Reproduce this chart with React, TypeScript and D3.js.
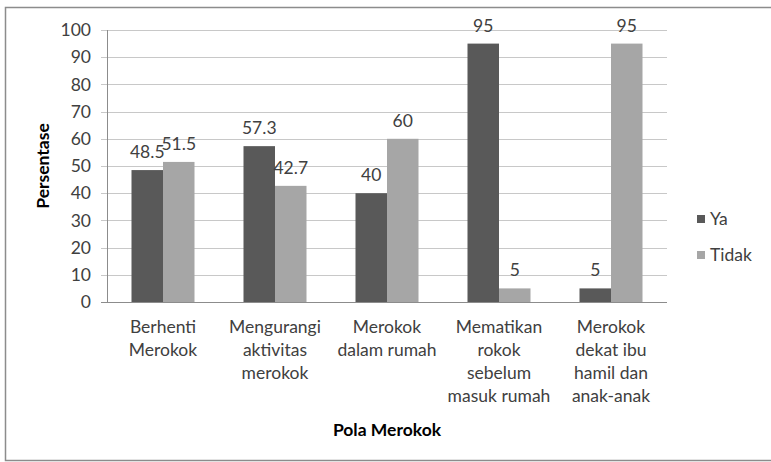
import * as d3 from "d3";
import { useEffect, useRef } from "react";

const categories = [
  ["Berhenti", "Merokok"],
  ["Mengurangi", "aktivitas", "merokok"],
  ["Merokok", "dalam rumah"],
  ["Mematikan", "rokok", "sebelum", "masuk rumah"],
  ["Merokok", "dekat ibu", "hamil dan", "anak-anak"],
];
const seriesNames = ["Ya", "Tidak"];
const ya = [48.5, 57.3, 40, 95, 5];
const tidak = [51.5, 42.7, 60, 5, 95];
const yTicks = [0, 10, 20, 30, 40, 50, 60, 70, 80, 90, 100];
const colors = ["#595959", "#a6a6a6"];

export default function App() {
  const ref = useRef<SVGSVGElement>(null);

  useEffect(() => {
    const svg = d3.select(ref.current);
    svg.selectAll("*").remove();
    const font = "Lato, 'Open Sans', sans-serif";
    const textColor = "#404040";
    const fs = 17.5;

    // outer chart border
    svg
      .append("rect")
      .attr("x", 5.5)
      .attr("y", 7.5)
      .attr("width", 770)
      .attr("height", 453)
      .attr("fill", "#fff")
      .attr("stroke", "#8c8c8c")
      .attr("stroke-width", 1.5);

    const left = 107,
      right = 667,
      top = 30,
      bottom = 302;

    const x0 = d3
      .scaleBand()
      .domain(d3.range(categories.length).map(String))
      .range([left, right]);
    const x1 = d3.scaleBand().domain(seriesNames).range([0, 63]);
    const y = d3.scaleLinear().domain([0, 100]).range([bottom, top]);

    // gridlines
    svg
      .append("g")
      .selectAll("line")
      .data(yTicks)
      .enter()
      .append("line")
      .attr("x1", left - 6)
      .attr("x2", right)
      .attr("y1", (d) => Math.round(y(d)) + 0.5)
      .attr("y2", (d) => Math.round(y(d)) + 0.5)
      .attr("stroke", (d) => (d === 0 ? "#8c8c8c" : "#c8c8c8"))
      .attr("stroke-width", 1);

    // y axis line
    svg
      .append("line")
      .attr("x1", left + 0.5)
      .attr("x2", left + 0.5)
      .attr("y1", top)
      .attr("y2", bottom)
      .attr("stroke", "#8c8c8c");

    // y tick labels
    svg
      .append("g")
      .selectAll("text")
      .data(yTicks)
      .enter()
      .append("text")
      .attr("x", 91)
      .attr("y", (d) => y(d))
      .attr("dy", "0.35em")
      .attr("text-anchor", "end")
      .attr("font-family", font)
      .attr("font-size", fs)
      .attr("fill", textColor)
      .text((d) => d);

    const data = categories.map((c, i) => ({
      i,
      vals: [
        { s: "Ya", v: ya[i] },
        { s: "Tidak", v: tidak[i] },
      ],
    }));

    const groups = svg
      .append("g")
      .selectAll("g")
      .data(data)
      .enter()
      .append("g")
      .attr(
        "transform",
        (d) =>
          "translate(" +
          (x0(String(d.i))! + (x0.bandwidth() - 63) / 2) +
          ",0)"
      );

    groups
      .selectAll("rect")
      .data((d) => d.vals)
      .enter()
      .append("rect")
      .attr("x", (d) => x1(d.s)!)
      .attr("width", x1.bandwidth())
      .attr("y", (d) => y(d.v))
      .attr("height", (d) => bottom - y(d.v))
      .attr("fill", (d, j) => colors[j]);

    groups
      .selectAll("text")
      .data((d) => d.vals)
      .enter()
      .append("text")
      .attr("x", (d) => x1(d.s)! + x1.bandwidth() / 2)
      .attr("y", (d) => y(d.v) - 12)
      .attr("text-anchor", "middle")
      .attr("font-family", font)
      .attr("font-size", fs)
      .attr("fill", textColor)
      .text((d) => d.v);

    // x category labels
    const xl = svg
      .append("g")
      .selectAll("text")
      .data(categories)
      .enter()
      .append("text")
      .attr("x", (d, i) => x0(String(i))! + x0.bandwidth() / 2)
      .attr("y", 333)
      .attr("text-anchor", "middle")
      .attr("font-family", font)
      .attr("font-size", fs)
      .attr("fill", textColor);
    xl.selectAll("tspan")
      .data((d) => d)
      .enter()
      .append("tspan")
      .attr("x", function () {
        return (this.parentNode as SVGTextElement).getAttribute("x");
      })
      .attr("dy", (d, j) => (j === 0 ? 0 : 23))
      .text((d) => d);

    // axis titles
    svg
      .append("text")
      .attr("transform", "translate(49,166) rotate(-90)")
      .attr("text-anchor", "middle")
      .attr("font-family", font)
      .attr("font-size", fs)
      .attr("font-weight", "bold")
      .attr("fill", "#000")
      .text("Persentase");

    svg
      .append("text")
      .attr("x", 387)
      .attr("y", 436)
      .attr("text-anchor", "middle")
      .attr("font-family", font)
      .attr("font-size", fs)
      .attr("font-weight", "bold")
      .attr("fill", "#000")
      .text("Pola Merokok");

    // legend
    const lg = svg
      .append("g")
      .selectAll("g")
      .data(seriesNames)
      .enter()
      .append("g")
      .attr("transform", (d, i) => "translate(697," + (219 + i * 36) + ")");
    lg.append("rect")
      .attr("x", 0)
      .attr("y", -4)
      .attr("width", 8)
      .attr("height", 8)
      .attr("fill", (d, i) => colors[i]);
    lg.append("text")
      .attr("x", 13)
      .attr("y", 0)
      .attr("dy", "0.35em")
      .attr("font-family", font)
      .attr("font-size", fs)
      .attr("fill", textColor)
      .text((d) => d);
  }, []);

  return (
    <svg
      ref={ref}
      width={771}
      height={462}
      style={{ position: "absolute", left: 0, top: 0 }}
    />
  );
}
